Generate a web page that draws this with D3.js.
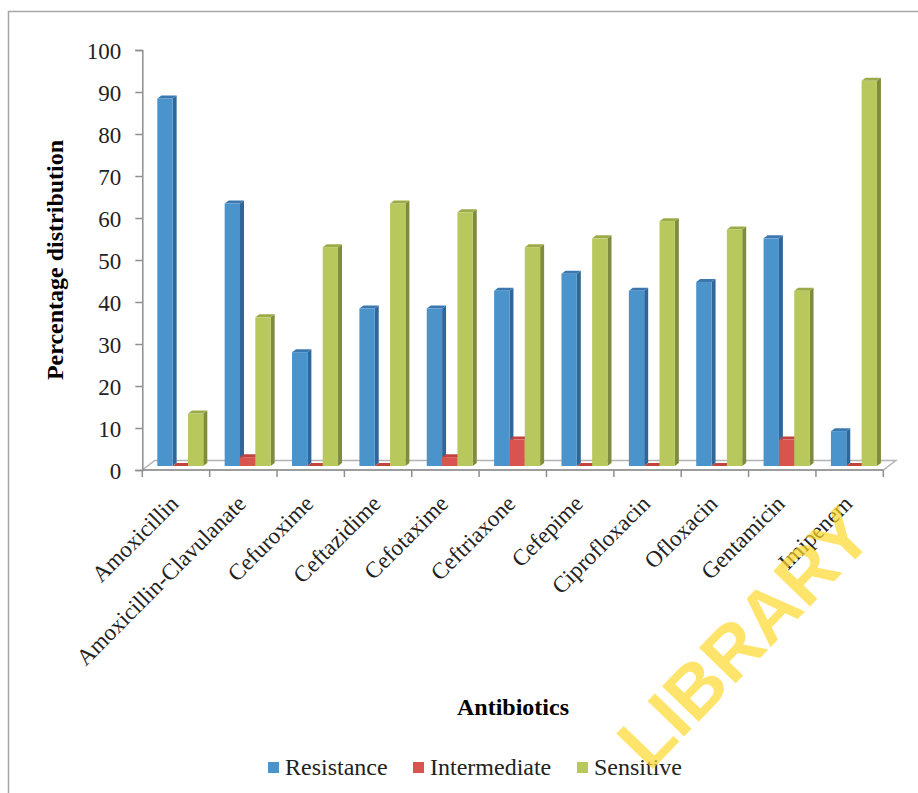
<!DOCTYPE html>
<html>
<head>
<meta charset="utf-8">
<script src="https://cdn.jsdelivr.net/npm/d3@7"></script>
<style>
  body { margin: 0; background: #fff; }
  text { font-family: "Liberation Serif", "Times New Roman", serif; }
</style>
</head>
<body>
<div id="chart"></div>
<script>
// data
const categories = ['Amoxicillin', 'Amoxicillin-Clavulanate', 'Cefuroxime', 'Ceftazidime',
  'Cefotaxime', 'Ceftriaxone', 'Cefepime', 'Ciprofloxacin', 'Ofloxacin', 'Gentamicin', 'Imipenem'];
const seriesNames = ['Resistance', 'Intermediate', 'Sensitive'];
const resistance = [87.5, 62.5, 27.1, 37.5, 37.5, 41.7, 45.8, 41.7, 43.8, 54.2, 8.3];
const intermediate = [0, 2.1, 0, 0, 2.1, 6.3, 0, 0, 0, 6.3, 0];
const sensitive = [12.5, 35.4, 52.1, 62.5, 60.4, 52.1, 54.2, 58.3, 56.3, 41.7, 91.7];
const yTicks = [0, 10, 20, 30, 40, 50, 60, 70, 80, 90, 100];

const values = [resistance, intermediate, sensitive];
// front, side, top colours per series
const colors = [
  {front: '#4b93cb', side: '#30679a', top: '#3b78b0'},
  {front: '#d9544e', side: '#a23a35', top: '#c0433d'},
  {front: '#b8c85c', side: '#7f8c3c', top: '#9cab48'}
];

const width = 918, height = 793;
const svg = d3.select('#chart').append('svg')
  .attr('width', width)
  .attr('height', height);

// outer frame
svg.append('rect')
  .attr('x', 8.5).attr('y', 11.5)
  .attr('width', 920).attr('height', 800)
  .attr('fill', 'none')
  .attr('stroke', '#a6a6a6')
  .attr('stroke-width', 1.5);

const x = d3.scaleBand().domain(categories).range([142.3, 883.3]);
const xs = d3.scaleBand().domain(seriesNames).range([15, 61]);
const y = d3.scaleLinear().domain([0, 100]).range([470, 50]);

// 3d offsets
const floorDx = 12.5, floorDy = -9.5;
const barShiftY = -4;
const depthX = 4, depthY = -3;

// floor
const x0 = x.range()[0], x1 = x.range()[1], y0 = y(0);
svg.append('polygon')
  .attr('points', [[x0, y0], [x1, y0], [x1 + floorDx, y0 + floorDy], [x0 + floorDx, y0 + floorDy]].join(' '))
  .attr('fill', 'none')
  .attr('stroke', '#b3b3b3')
  .attr('stroke-width', 1.5);

// bars
const bars = [];
categories.forEach((c, i) => {
  seriesNames.forEach((s, j) => {
    bars.push({cat: c, series: j, value: values[j][i]});
  });
});

const g = svg.append('g');
bars.forEach(d => {
  const bx = x(d.cat) + xs(seriesNames[d.series]);
  const bw = xs.bandwidth();
  const top = y(d.value) + barShiftY;
  const bot = y(0) + barShiftY;
  const col = colors[d.series];
  // side face
  g.append('polygon')
    .attr('points', [[bx + bw, top], [bx + bw + depthX, top + depthY], [bx + bw + depthX, bot + depthY], [bx + bw, bot]].join(' '))
    .attr('fill', col.side);
  // top face
  g.append('polygon')
    .attr('points', [[bx, top], [bx + depthX, top + depthY], [bx + bw + depthX, top + depthY], [bx + bw, top]].join(' '))
    .attr('fill', col.top);
  // front face
  g.append('rect')
    .attr('x', bx).attr('y', top)
    .attr('width', bw).attr('height', bot - top)
    .attr('fill', col.front);
});

// y axis
const yAxis = svg.append('g')
  .attr('transform', 'translate(142.3,0)')
  .call(d3.axisLeft(y).tickValues(yTicks).tickSize(7).tickPadding(14));
yAxis.select('.domain').attr('stroke', '#8f8f8f').attr('stroke-width', 1.5);
yAxis.selectAll('.tick line').attr('stroke', '#8f8f8f').attr('stroke-width', 1.5);
yAxis.selectAll('.tick text')
  .attr('font-family', 'Liberation Serif')
  .attr('font-size', 23)
  .attr('fill', '#222')
  .attr('dy', '0.38em');

// x axis line + ticks at band boundaries
svg.append('line')
  .attr('x1', x0).attr('x2', x1)
  .attr('y1', y0).attr('y2', y0)
  .attr('stroke', '#8f8f8f').attr('stroke-width', 1.5);
const bounds = categories.map(c => x(c)).concat([x1]);
svg.selectAll('.xtick')
  .data(bounds)
  .enter().append('line')
  .attr('x1', d => d).attr('x2', d => d)
  .attr('y1', y0).attr('y2', y0 + 7)
  .attr('stroke', '#8f8f8f').attr('stroke-width', 1.5);

// category labels
svg.selectAll('.xlabel')
  .data(categories)
  .enter().append('text')
  .attr('transform', d => 'translate(' + (x(d) + x.bandwidth() / 2 + 4) + ',505) rotate(-45)')
  .attr('text-anchor', 'end')
  .attr('font-size', 23)
  .attr('fill', '#222')
  .text(d => d);

// axis titles
svg.append('text')
  .attr('transform', 'translate(63,260) rotate(-90)')
  .attr('text-anchor', 'middle')
  .attr('font-size', 24)
  .attr('font-weight', 'bold')
  .text('Percentage distribution');

svg.append('text')
  .attr('x', 513).attr('y', 715)
  .attr('text-anchor', 'middle')
  .attr('font-size', 24)
  .attr('font-weight', 'bold')
  .text('Antibiotics');

// legend
const legendX = [268, 413, 577];
const legend = svg.selectAll('.legend')
  .data(seriesNames)
  .enter().append('g')
  .attr('transform', (d, i) => 'translate(' + legendX[i] + ',762)');
legend.append('rect')
  .attr('width', 11).attr('height', 11)
  .attr('fill', (d, i) => colors[i].front);
legend.append('text')
  .attr('x', 17).attr('y', 13)
  .attr('font-size', 24)
  .attr('fill', '#222')
  .text(d => d);

// watermark
svg.append('text')
  .attr('transform', 'translate(876,538) rotate(-46)')
  .attr('text-anchor', 'end')
  .style('font-family', '"Liberation Sans", Arial, sans-serif')
  .attr('font-weight', 'bold')
  .attr('font-size', 74)
  .attr('fill', '#ffd92e')
  .attr('opacity', 0.7)
  .text('LIBRARY');
</script>
</body>
</html>
